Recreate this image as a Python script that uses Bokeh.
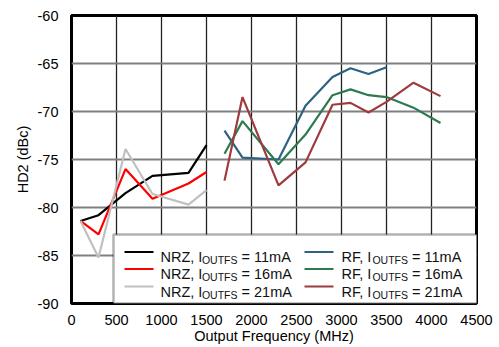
from bokeh.plotting import figure
from bokeh.models import Range1d, FixedTicker, BoxAnnotation, Label
from bokeh.embed import file_html
from bokeh.resources import INLINE

# ---- data ----
nrz_freq = [100, 300, 600, 900, 1300, 1500]
nrz_11 = [-81.4, -80.8, -78.5, -76.7, -76.4, -73.5]
nrz_16 = [-81.4, -82.8, -76.0, -79.1, -77.5, -76.3]
nrz_21 = [-81.4, -85.2, -73.9, -78.6, -79.7, -78.2]

rf_freq_11 = [1700, 1900, 2300, 2600, 2900, 3100, 3300, 3500]
rf_11 = [-72.0, -74.8, -75.0, -69.4, -66.4, -65.5, -66.1, -65.4]
rf_freq = [1700, 1900, 2300, 2600, 2900, 3100, 3300, 3500, 3800, 4100]
rf_16 = [-74.4, -71.0, -75.5, -72.4, -68.3, -67.7, -68.3, -68.5, -69.6, -71.2]
rf_21 = [-77.2, -68.5, -77.7, -75.3, -69.3, -69.1, -70.1, -69.0, -67.0, -68.4]

x_ticks = [0, 500, 1000, 1500, 2000, 2500, 3000, 3500, 4000, 4500]
y_ticks = [-90, -85, -80, -75, -70, -65, -60]

series = [
    ("NRZ", "11mA", nrz_freq, nrz_11, "#000000"),
    ("NRZ", "16mA", nrz_freq, nrz_16, "#FF0000"),
    ("NRZ", "21mA", nrz_freq, nrz_21, "#C0C0C0"),
    ("RF", "11mA", rf_freq_11, rf_11, "#2D6282"),
    ("RF", "16mA", rf_freq, rf_16, "#2E7A50"),
    ("RF", "21mA", rf_freq, rf_21, "#9E3B3D"),
]

FONT = "Liberation Sans"
FS = 14.5
SUB_FS = 10.5

p = figure(width=499, height=347, output_backend="svg", toolbar_location=None,
           x_range=Range1d(0, 4500), y_range=Range1d(-90, -60),
           min_border_left=71, min_border_right=23, min_border_top=15, min_border_bottom=44)
p.background_fill_color = "white"
p.border_fill_color = "white"
p.outline_line_color = "black"
p.outline_line_width = 3

for ax in (p.xaxis[0], p.yaxis[0]):
    ax.axis_line_color = None
    ax.major_tick_line_color = None
    ax.minor_tick_line_color = None
    ax.major_label_text_font = FONT
    ax.major_label_text_font_size = f"{FS}px"
    ax.major_label_text_color = "black"
    ax.axis_label_text_font = FONT
    ax.axis_label_text_font_size = f"{FS}px"
    ax.axis_label_text_font_style = "normal"
    ax.axis_label_text_color = "black"

p.xaxis.ticker = FixedTicker(ticks=x_ticks)
p.yaxis.ticker = FixedTicker(ticks=y_ticks)
p.yaxis.major_label_overrides = {t: str(t) for t in y_ticks}
p.xaxis.major_label_standoff = 5
p.yaxis.major_label_standoff = 7
p.xaxis.axis_label = "Output Frequency (MHz)"
p.xaxis.axis_label_standoff = 0
p.yaxis.axis_label = "HD2 (dBc)"
p.yaxis.axis_label_standoff = 4

p.xgrid.ticker = FixedTicker(ticks=x_ticks)
p.ygrid.ticker = FixedTicker(ticks=y_ticks)
p.xgrid.grid_line_color = "#222222"
p.xgrid.grid_line_width = 1.3
p.ygrid.grid_line_color = "#808080"
p.ygrid.grid_line_width = 2

for kind, cur, xs, ys, col in series:
    p.line(xs, ys, line_color=col, line_width=2.2)

# ---- custom legend (screen units, relative to the frame) ----
W = {'N': .722, 'R': .722, 'Z': .611, 'F': .611, ',': .278, ' ': .278, 'I': .278,
     'O': .778, 'U': .722, 'T': .611, 'S': .667}


def tw(s, fs):
    return sum(W.get(c, .556) for c in s) * fs


p.add_layout(BoxAnnotation(left=42, right=407, top=69, bottom=0,
                           left_units="screen", right_units="screen",
                           top_units="screen", bottom_units="screen",
                           fill_color="white", fill_alpha=1,
                           line_color="black", line_width=2.5, level="overlay"))

rows = [51.5, 34.5, 17.0]
cols = {"NRZ": (53, 82, 89), "RF": (233, 262, 270)}
for i, (kind, cur, xs, ys, col) in enumerate(series):
    row = rows[i % 3]
    x0, x1, tx = cols[kind]
    p.add_layout(BoxAnnotation(left=x0, right=x1, top=row + 1.1, bottom=row - 1.1,
                               left_units="screen", right_units="screen",
                               top_units="screen", bottom_units="screen",
                               fill_color=col, fill_alpha=1, line_color=None,
                               level="overlay"))
    base = row - 5.2
    t1 = f"{kind}, I"
    p.add_layout(Label(x=tx, y=base, x_units="screen", y_units="screen", text=t1,
                       text_font=FONT, text_font_size=f"{FS}px", text_baseline="alphabetic",
                       text_color="#111111", level="overlay"))
    sx = tx + tw(t1, FS) - 0.5
    p.add_layout(Label(x=sx, y=base - 3, x_units="screen", y_units="screen", text="OUTFS",
                       text_font=FONT, text_font_size=f"{SUB_FS}px", text_baseline="alphabetic",
                       text_color="#111111", level="overlay"))
    ex = sx + tw("OUTFS", SUB_FS) + tw(" ", FS)
    p.add_layout(Label(x=ex, y=base, x_units="screen", y_units="screen", text=f"= {cur}",
                       text_font=FONT, text_font_size=f"{FS}px", text_baseline="alphabetic",
                       text_color="#111111", level="overlay"))

open("out.html", "w").write(file_html(p, INLINE))
